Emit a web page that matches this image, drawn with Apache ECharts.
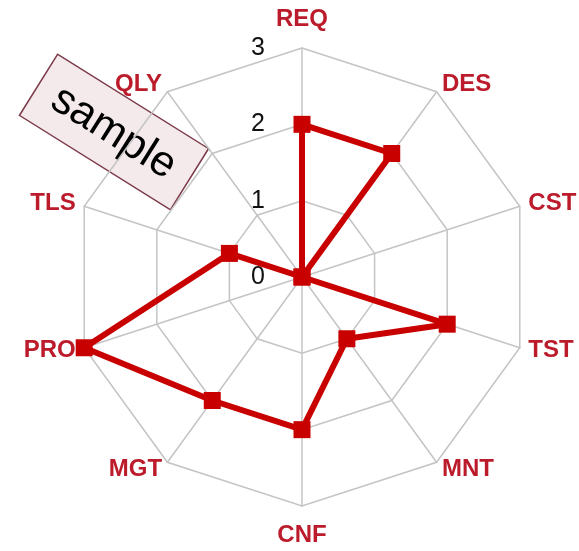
<!DOCTYPE html>
<html><head><meta charset="utf-8">
<script src="https://cdn.jsdelivr.net/npm/echarts@6/dist/echarts.min.js"></script>
<style>html,body{margin:0;padding:0;background:#fff}#c{width:579px;height:551px}</style>
</head><body><div id="c"></div>
<script>
// Indicators listed clockwise from the top
var categories = ['REQ','DES','CST','TST','MNT','CNF','MGT','PRO','TLS','QLY'];
var values     = [2, 2, 0, 2, 1, 2, 2, 3, 1, 0];
var tickLabels = ['0','1','2','3'];
var axisMax = 3;
var watermark = 'sample';

// ECharts radar places indicators counter-clockwise: reorder to get clockwise
var order = [0].concat(categories.slice(1).map(function(_, i){ return categories.length - 1 - i; }));
var indicators = order.map(function(i){
  var ind = { name: categories[i], min: 0, max: axisMax };
  if (categories[i] === 'REQ' || categories[i] === 'CNF') ind.nameGap = 17;
  if (i === 0) ind.axisLabel = { show: true, color: '#111', fontSize: 25, margin: 37,
      fontFamily: 'Liberation Sans', formatter: function(v){ return tickLabels[Math.round(v)]; } };
  return ind;
});
var data = order.map(function(i){ return values[i]; });

var chart = echarts.init(document.getElementById('c'));
chart.setOption({
  animation: false,
  radar: {
    center: [302, 277],
    radius: 229,
    startAngle: 90,
    splitNumber: 3,
    shape: 'polygon',
    indicator: indicators,
    nameGap: 9,
    axisName: { color: '#bb1b2b', fontWeight: 'bold', fontSize: 24, fontFamily: 'Liberation Sans' },
    axisLabel: { show: false },
    axisLine: { lineStyle: { color: '#c4c4c4', width: 1.5 } },
    splitLine: { lineStyle: { color: '#c4c4c4', width: 1.5 } },
    splitArea: { show: false }
  },
  series: [{
    type: 'radar',
    symbol: 'rect',
    symbolSize: 17,
    lineStyle: { color: '#c80000', width: 6 },
    itemStyle: { color: '#c80000' },
    data: [{ value: data }]
  }],
  graphic: [{
    type: 'group',
    x: 114, y: 132,
    rotation: -32 * Math.PI / 180,
    children: [{
      type: 'rect',
      shape: { x: -89, y: -36, width: 178, height: 72 },
      style: { fill: '#f4eaec', stroke: '#7b3a47', lineWidth: 1.5 }
    }, {
      type: 'text',
      x: 0, y: 1,
      style: { text: watermark, fontSize: 43, fontFamily: 'Liberation Sans', fill: '#000',
               align: 'center', verticalAlign: 'middle' }
    }]
  }]
});
</script></body></html>
